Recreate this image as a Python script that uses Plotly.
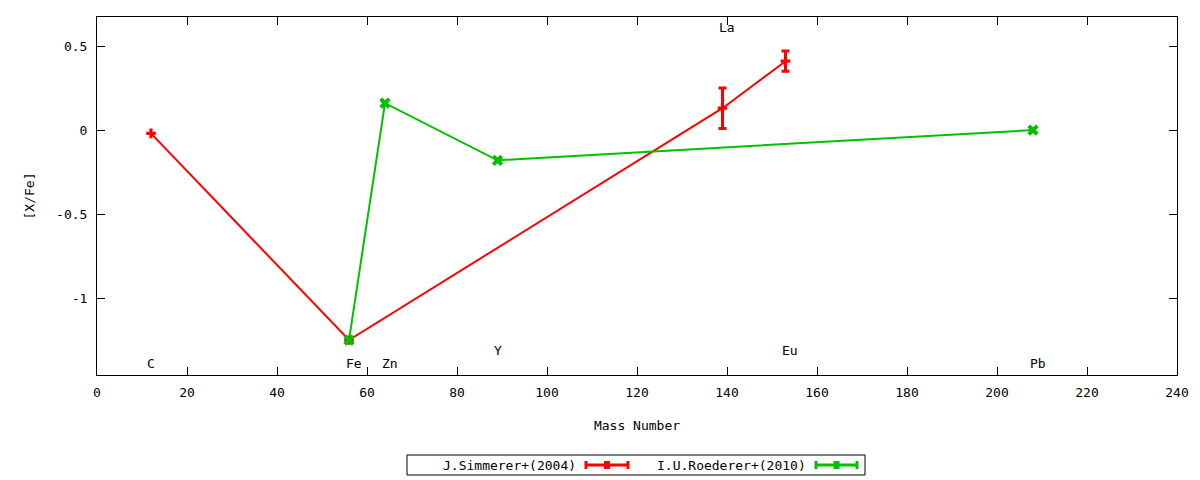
import plotly.graph_objects as go

# J.Simmerer+(2004)
sim_mass = [12, 56, 139, 153]
sim_xfe = [-0.02, -1.25, 0.13, 0.41]
sim_err = [0.0, 0.0, 0.12, 0.06]

# I.U.Roederer+(2010)
roe_mass = [56, 64, 89, 208]
roe_xfe = [-1.25, 0.16, -0.18, 0.0]

# element labels
elem_names = ["C", "Fe", "Zn", "Y", "La", "Eu", "Pb"]
elem_x = [12, 57, 65, 89, 140, 154, 209]
elem_y = [-1.39, -1.39, -1.39, -1.31, 0.61, -1.31, -1.39]

RED = "#ff0000"
GREEN = "#00c000"
FONT = "DejaVu Sans Mono"

fig = go.Figure()

fig.add_trace(go.Scatter(
    x=sim_mass, y=sim_xfe, mode="lines+markers",
    line=dict(color=RED, width=2),
    marker=dict(symbol="cross", size=8, color=RED),
    error_y=dict(type="data", array=sim_err, color=RED, thickness=3, width=4),
    showlegend=False))

fig.add_trace(go.Scatter(
    x=roe_mass, y=roe_xfe, mode="lines+markers",
    line=dict(color=GREEN, width=2),
    marker=dict(symbol="x", size=10, color=GREEN),
    showlegend=False))

for name, ex, ey in zip(elem_names, elem_x, elem_y):
    fig.add_annotation(x=ex, y=ey, text=name, showarrow=False,
                       font=dict(family=FONT, size=13, color="black"))

# gnuplot style legend drawn by hand below the plot
L, R, T, B = 97, 1177, 17, 375
def px(x):
    return (x - L) / (R - L)
def py(y):
    return (B - y) / (B - T)

fig.add_shape(type="rect", xref="paper", yref="paper",
              x0=px(407), x1=px(865), y0=py(475), y1=py(455),
              line=dict(color="black", width=1))

fig.add_annotation(xref="paper", yref="paper", x=px(578), y=py(465),
                   xanchor="right", yanchor="middle", text="J.Simmerer+(2004)",
                   showarrow=False, font=dict(family=FONT, size=13, color="black"))
fig.add_annotation(xref="paper", yref="paper", x=px(808), y=py(465),
                   xanchor="right", yanchor="middle", text="I.U.Roederer+(2010)",
                   showarrow=False, font=dict(family=FONT, size=13, color="black"))

for x0, x1, col in [(586, 628, RED), (816, 857, GREEN)]:
    fig.add_shape(type="line", xref="paper", yref="paper",
                  x0=px(x0), x1=px(x1), y0=py(465), y1=py(465),
                  line=dict(color=col, width=3))
    for xc in (x0, x1):
        fig.add_shape(type="line", xref="paper", yref="paper",
                      x0=px(xc), x1=px(xc), y0=py(469), y1=py(461),
                      line=dict(color=col, width=3))
    xm = (x0 + x1) / 2
    fig.add_shape(type="rect", xref="paper", yref="paper",
                  x0=px(xm - 3), x1=px(xm + 3), y0=py(469), y1=py(461),
                  line=dict(width=0), fillcolor=col)

axis_style = dict(showline=True, linecolor="black", linewidth=1, mirror="ticks",
                  ticks="inside", ticklen=8, tickcolor="black", showgrid=False,
                  zeroline=False, tickfont=dict(family=FONT, size=13, color="black"))

fig.update_xaxes(range=[0, 240], dtick=20, tick0=0, ticklabelstandoff=5,
                 title=dict(text="Mass Number", standoff=22,
                            font=dict(family=FONT, size=13, color="black")),
                 **axis_style)
fig.update_yaxes(range=[-1.458, 0.673], tickvals=[-1, -0.5, 0, 0.5],
                 ticktext=["-1", "-0.5", "0", "0.5"], ticklabelstandoff=6,
                 title=dict(text="[X/Fe]", standoff=18,
                            font=dict(family=FONT, size=13, color="black")),
                 **axis_style)

fig.update_layout(width=1200, height=480,
                  margin=dict(l=97, r=23, t=17, b=105),
                  plot_bgcolor="white", paper_bgcolor="white",
                  font=dict(family=FONT, size=13, color="black"))

fig.write_html("out.html", config={"displayModeBar": False},
               post_script="document.body.style.margin='0';")
